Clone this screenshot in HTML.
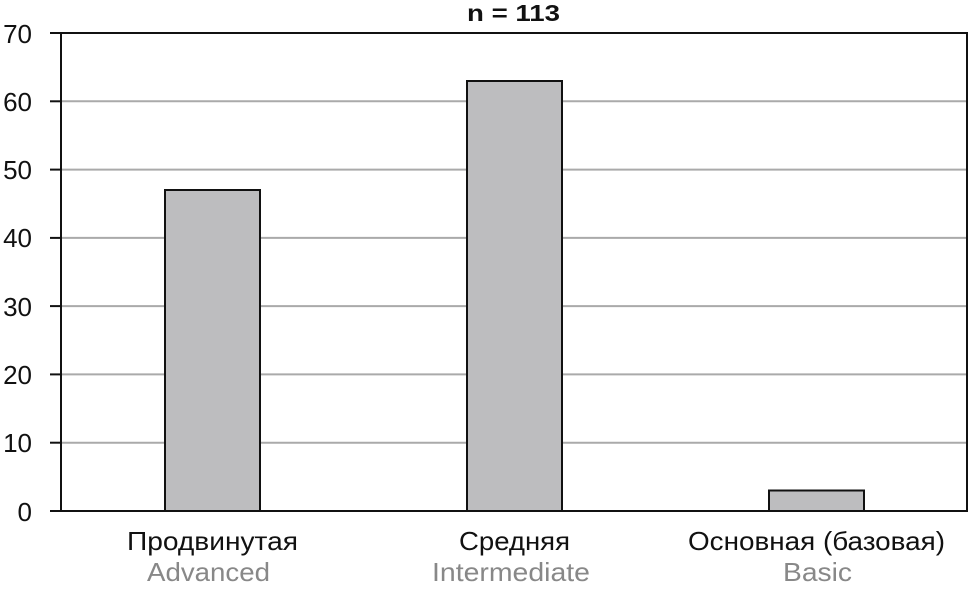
<!DOCTYPE html>
<html><head><meta charset="utf-8"><style>body{margin:0;background:#fff}svg{display:block}</style></head><body>
<svg width="969" height="592" viewBox="0 0 969 592" xmlns="http://www.w3.org/2000/svg" font-family="Liberation Sans, sans-serif">
<rect width="969" height="592" fill="#fff"/>
<g stroke="#aaa" stroke-width="2">
<line x1="61" y1="101.3" x2="967" y2="101.3"/>
<line x1="61" y1="169.6" x2="967" y2="169.6"/>
<line x1="61" y1="237.9" x2="967" y2="237.9"/>
<line x1="61" y1="306.1" x2="967" y2="306.1"/>
<line x1="61" y1="374.4" x2="967" y2="374.4"/>
<line x1="61" y1="442.7" x2="967" y2="442.7"/>
</g>
<g fill="#bdbdbf" stroke="#111" stroke-width="2">
<rect x="165" y="190" width="95" height="321"/>
<rect x="467" y="81" width="95" height="430"/>
<rect x="769" y="490.5" width="95" height="20.5"/>
</g>
<g stroke="#111" stroke-width="2" fill="none">
<polyline points="61,511 61,33 967,33 967,511 50,511"/>
<line x1="50" y1="33" x2="61" y2="33"/>
<line x1="50" y1="101.3" x2="61" y2="101.3"/>
<line x1="50" y1="169.6" x2="61" y2="169.6"/>
<line x1="50" y1="237.9" x2="61" y2="237.9"/>
<line x1="50" y1="306.1" x2="61" y2="306.1"/>
<line x1="50" y1="374.4" x2="61" y2="374.4"/>
<line x1="50" y1="442.7" x2="61" y2="442.7"/>
</g>
<g font-size="26" text-anchor="end" fill="#111">
<text x="32" y="43">70</text><text x="32" y="111">60</text><text x="32" y="179">50</text>
<text x="32" y="247">40</text><text x="32" y="316">30</text><text x="32" y="384">20</text>
<text x="32" y="452">10</text><text x="32" y="521">0</text>
</g>
<text x="467" y="21" font-size="23" font-weight="bold" fill="#111" textLength="93" lengthAdjust="spacingAndGlyphs">n = 113</text>
<g font-size="26">
<text x="127" y="550" fill="#111" textLength="171" lengthAdjust="spacingAndGlyphs">Продвинутая</text>
<text x="459" y="550" fill="#111" textLength="111" lengthAdjust="spacingAndGlyphs">Средняя</text>
<text x="688" y="550" fill="#111" textLength="257" lengthAdjust="spacingAndGlyphs">Основная (базовая)</text>
<text x="147" y="581" fill="#888" textLength="123" lengthAdjust="spacingAndGlyphs">Advanced</text>
<text x="432" y="581" fill="#888" textLength="158" lengthAdjust="spacingAndGlyphs">Intermediate</text>
<text x="783" y="581" fill="#888" textLength="69" lengthAdjust="spacingAndGlyphs">Basic</text>
</g>
</svg>
</body></html>
